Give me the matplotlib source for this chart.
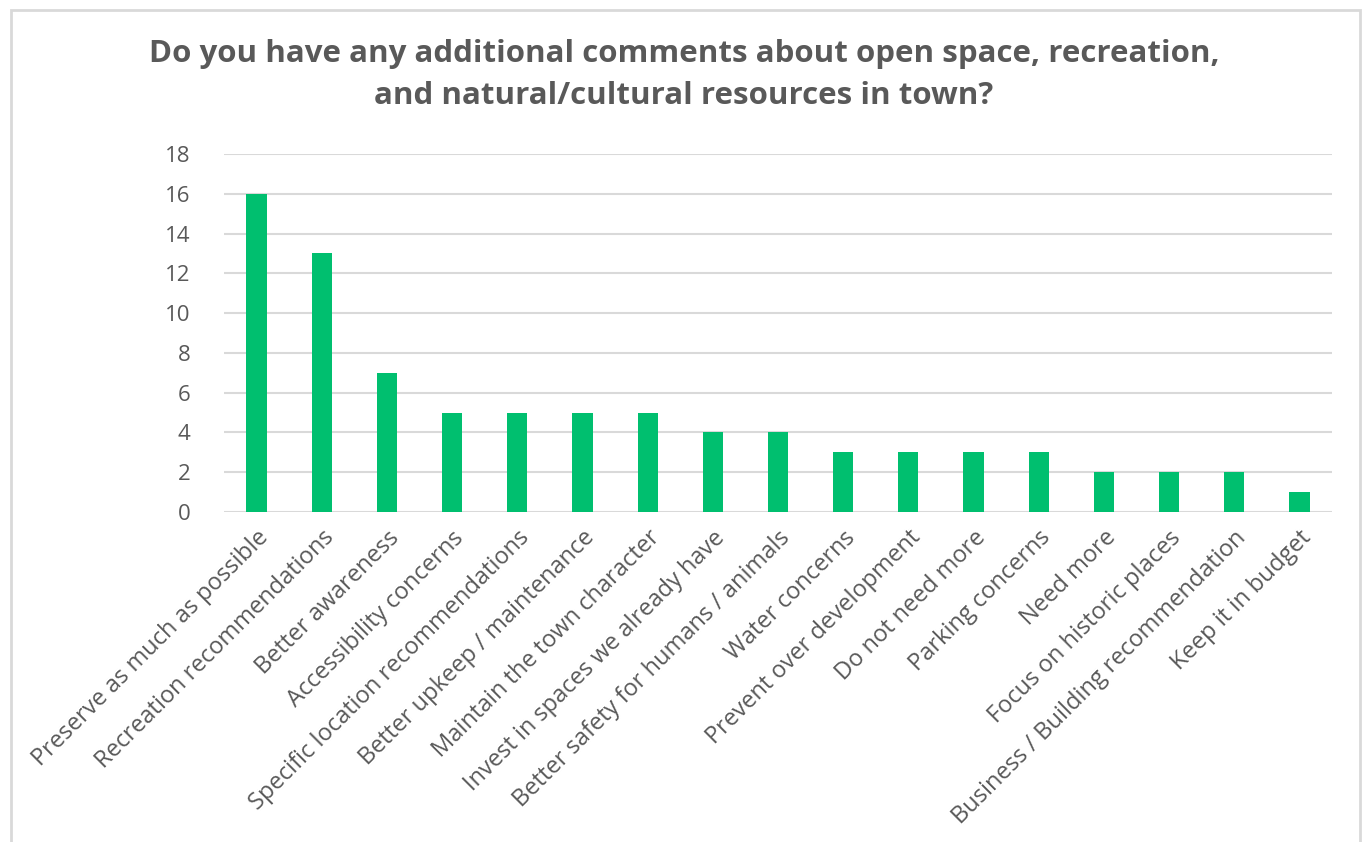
import matplotlib.pyplot as plt
from matplotlib.patches import Rectangle

categories = [
    "Preserve as much as possible",
    "Recreation recommendations",
    "Better awareness",
    "Accessibility concerns",
    "Specific location recommendations",
    "Better upkeep / maintenance",
    "Maintain the town character",
    "Invest in spaces we already have",
    "Better safety for humans / animals",
    "Water concerns",
    "Prevent over development",
    "Do not need more",
    "Parking concerns",
    "Need more",
    "Focus on historic places",
    "Business / Building recommendation",
    "Keep it in budget",
]
counts = [16, 13, 7, 5, 5, 5, 5, 4, 4, 3, 3, 3, 3, 2, 2, 2, 1]
y_ticks = [0, 2, 4, 6, 8, 10, 12, 14, 16, 18]

plt.rcParams['font.family'] = ['Open Sans', 'DejaVu Sans']
text_color = '#595959'

fig = plt.figure(figsize=(13.68, 8.42), dpi=100)
ax = fig.add_axes([224 / 1368, 1 - 512 / 842, (1332 - 224) / 1368, (512 - 154) / 842])

x = list(range(len(categories)))
ax.bar(x, counts, width=0.31, color='#00bf6f', zorder=3)

ax.set_xlim(-0.5, len(categories) - 0.5)
ax.set_ylim(0, 18)
ax.set_yticks(y_ticks)
ax.yaxis.grid(True, color='#d9d9d9', linewidth=1.5, zorder=0)
for s in ax.spines.values():
    s.set_visible(False)
ax.tick_params(axis='both', length=0, labelcolor=text_color)
ax.tick_params(axis='y', pad=24, labelsize=16)
ax.set_xticks(x)
ax.set_xticklabels(categories, rotation=45, ha='right', rotation_mode='anchor')
ax.tick_params(axis='x', pad=10, labelsize=17)

fig.text(0.5, 1 - 75 / 842,
         "Do you have any additional comments about open space, recreation,\nand natural/cultural resources in town?",
         ha='center', va='center', fontsize=22.5, fontweight='bold', color=text_color,
         linespacing=1.5)

fig.patches.append(Rectangle((11 / 1368, -0.05), (1360 - 11) / 1368, 1.05 - 10 / 842,
                             transform=fig.transFigure, fill=False,
                             edgecolor='#d9d9d9', linewidth=2))

fig.savefig('out.png', dpi=100)
